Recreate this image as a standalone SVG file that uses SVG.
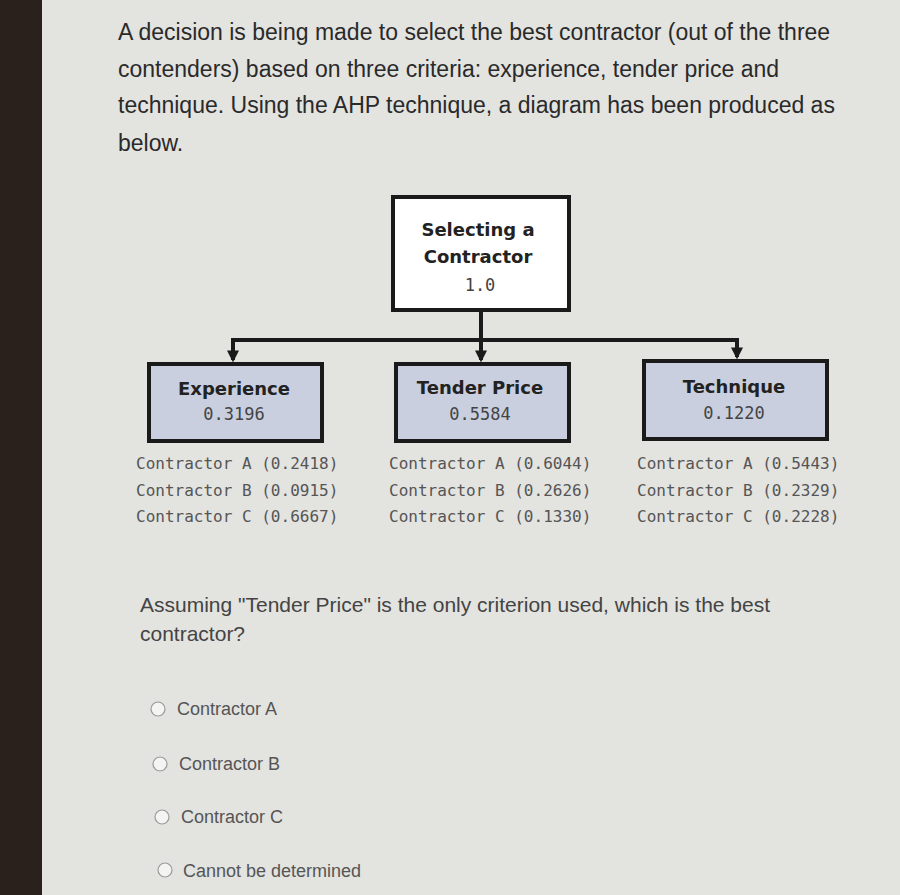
<svg xmlns="http://www.w3.org/2000/svg" width="900" height="895" viewBox="0 0 900 895">
<defs>
<style>
.q{font-family:"Liberation Sans",Arial,sans-serif;font-size:23px;fill:#2a2a2a}
.b{font-family:"DejaVu Sans",sans-serif;font-size:18px;font-weight:bold;fill:#222;text-anchor:middle}
.v{font-family:"DejaVu Sans Mono",monospace;font-size:17px;fill:#444;text-anchor:middle}
.l{font-family:"DejaVu Sans Mono",monospace;font-size:16px;fill:#555}
.o{font-family:"Liberation Sans",Arial,sans-serif;font-size:18px;fill:#555}
.box{fill:#c9cfdf;stroke:#1a1a1a;stroke-width:4}
.r{fill:#f4f4f2;stroke:#999;stroke-width:1.2}
</style>
<marker id="ar" viewBox="0 0 10 10" refX="8" refY="5" markerWidth="3" markerHeight="3" orient="auto"><path d="M0,0 L10,5 L0,10 Z" fill="#1a1a1a"/></marker>
</defs>
<rect width="900" height="895" fill="#e3e3e0"/>
<rect width="42" height="895" fill="#2a211c"/>
<text class="q" x="118" y="40">A decision is being made to select the best contractor (out of the three</text>
<text class="q" x="118" y="77">contenders) based on three criteria: experience, tender price and</text>
<text class="q" x="118" y="113">technique. Using the AHP technique, a diagram has been produced as</text>
<text class="q" x="118" y="151">below.</text>
<g id="connectors" stroke="#1a1a1a" stroke-width="4" fill="none">
<path d="M481,310 V340 M231,340 H739"/>
<path d="M233,340 V360" marker-end="url(#ar)"/>
<path d="M481,340 V360" marker-end="url(#ar)"/>
<path d="M737,340 V357" marker-end="url(#ar)"/>
</g>
<g id="root"><rect x="393" y="197" width="176" height="113" fill="#fff" stroke="#1a1a1a" stroke-width="4"/>
<text class="b" x="478" y="236">Selecting a</text><text class="b" x="478" y="263">Contractor</text><text class="v" x="480" y="291">1.0</text></g>
<g id="experience"><rect class="box" x="149" y="364" width="173" height="77"/>
<text class="b" x="234" y="395">Experience</text><text class="v" x="234" y="420">0.3196</text></g>
<g id="tender"><rect class="box" x="396" y="364" width="173" height="77"/>
<text class="b" x="480" y="394">Tender Price</text><text class="v" x="480" y="420">0.5584</text></g>
<g id="technique"><rect class="box" x="644" y="361" width="183" height="78"/>
<text class="b" x="734" y="393">Technique</text><text class="v" x="734" y="419">0.1220</text></g>
<g id="lists">
<text class="l" x="136" y="469">Contractor A (0.2418)</text>
<text class="l" x="136" y="496">Contractor B (0.0915)</text>
<text class="l" x="136" y="522">Contractor C (0.6667)</text>
<text class="l" x="389" y="469">Contractor A (0.6044)</text>
<text class="l" x="389" y="496">Contractor B (0.2626)</text>
<text class="l" x="389" y="522">Contractor C (0.1330)</text>
<text class="l" x="637" y="469">Contractor A (0.5443)</text>
<text class="l" x="637" y="496">Contractor B (0.2329)</text>
<text class="l" x="637" y="522">Contractor C (0.2228)</text>
</g>
<text class="q" x="140" y="612" style="font-size:21px;fill:#444">Assuming "Tender Price" is the only criterion used, which is the best</text>
<text class="q" x="140" y="641" style="font-size:21px;fill:#444">contractor?</text>
<circle class="r" cx="158" cy="709" r="7"/><text class="o" x="177" y="715">Contractor A</text>
<circle class="r" cx="160" cy="764" r="7"/><text class="o" x="179" y="770">Contractor B</text>
<circle class="r" cx="162" cy="817" r="7"/><text class="o" x="181" y="823">Contractor C</text>
<circle class="r" cx="165" cy="870" r="7"/><text class="o" x="183" y="877">Cannot be determined</text>
</svg>
